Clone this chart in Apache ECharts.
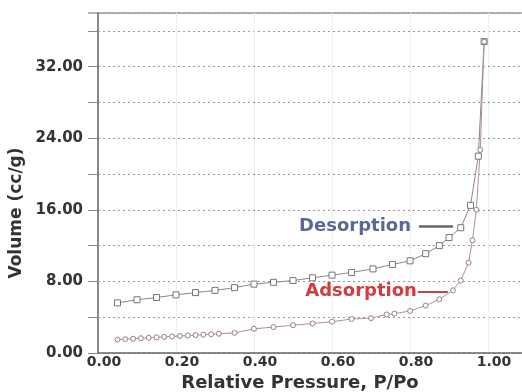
<!DOCTYPE html>
<html>
<head>
<meta charset="utf-8">
<script src="https://cdn.jsdelivr.net/npm/echarts@6/dist/echarts.min.js"></script>
<style>
  html, body { margin: 0; padding: 0; background: #fff; }
  #chart-container { width: 522px; height: 392px; }
</style>
</head>
<body>
<div id="chart-container"></div>
<script>
var dom = document.getElementById("chart-container");
var myChart = echarts.init(dom, null, { renderer: "canvas" });

// relative pressure P/Po and volume (cc/g)
const desorptionP = [0.05, 0.10, 0.15, 0.20, 0.25, 0.30, 0.35, 0.40, 0.45, 0.50, 0.55, 0.60, 0.65, 0.705, 0.755, 0.80, 0.84, 0.875, 0.90, 0.93, 0.955, 0.975, 0.99];
const desorptionV = [5.6, 5.95, 6.2, 6.5, 6.75, 7.0, 7.3, 7.7, 7.9, 8.1, 8.4, 8.7, 9.0, 9.4, 9.9, 10.3, 11.1, 12.0, 12.9, 14.0, 16.5, 22.0, 34.8];

const adsorptionP = [0.05, 0.07, 0.09, 0.11, 0.13, 0.15, 0.17, 0.19, 0.21, 0.23, 0.25, 0.27, 0.29, 0.31, 0.35, 0.40, 0.45, 0.50, 0.55, 0.60, 0.65, 0.70, 0.74, 0.76, 0.80, 0.84, 0.875, 0.91, 0.93, 0.95, 0.96, 0.97, 0.98, 0.99];
const adsorptionV = [1.5, 1.55, 1.6, 1.65, 1.7, 1.75, 1.8, 1.85, 1.9, 1.95, 2.0, 2.05, 2.1, 2.15, 2.25, 2.7, 2.9, 3.1, 3.3, 3.5, 3.8, 3.9, 4.3, 4.4, 4.7, 5.3, 6.0, 7.0, 8.1, 10.1, 12.6, 16.0, 22.7, 34.8];

const yTicks = [0, 8, 16, 24, 32];

const pair = (xs, ys) => xs.map((x, i) => [x, ys[i]]);

const tickFont = { fontFamily: "DejaVu Sans", fontWeight: "bold", fontSize: 14, color: "#333" };

var option = {
  backgroundColor: "#fff",
  animation: false,
  grid: { left: 98, top: 13, right: 0, bottom: 39, outerBoundsMode: "none", containLabel: false },
  xAxis: {
    type: "value",
    min: 0,
    max: 1.087,
    interval: 0.2,
    name: "Relative Pressure, P/Po",
    nameLocation: "middle",
    nameGap: 19,
    nameTextStyle: { fontFamily: "DejaVu Sans", fontWeight: "bold", fontSize: 18, color: "#333", padding: [0, 20, 0, 0] },
    axisLine: { show: true, lineStyle: { color: "#666", width: 1.5 } },
    axisTick: { show: false },
    axisLabel: Object.assign({}, tickFont, {
      margin: 2,
      showMaxLabel: false,
      padding: [0, 0, 0, 12],
      formatter: (v) => v.toFixed(2),
    }),
    splitLine: { show: true, lineStyle: { color: "#ddd", type: "dotted", width: 1 } },
  },
  yAxis: {
    type: "value",
    min: 0,
    max: 38,
    interval: 4,
    name: "Volume (cc/g)",
    nameLocation: "middle",
    nameGap: 70,
    nameTextStyle: { fontFamily: "DejaVu Sans", fontWeight: "bold", fontSize: 17, color: "#333", padding: [0, 60, 0, 0] },
    axisLine: { show: true, lineStyle: { color: "#666", width: 1.5 } },
    axisTick: { show: true, inside: false, length: 10, lineStyle: { color: "#888" } },
    axisLabel: Object.assign({}, tickFont, {
      fontSize: 15,
      margin: 15,
      showMaxLabel: false,
      formatter: (v) => (yTicks.indexOf(v) >= 0 ? v.toFixed(2) : ""),
    }),
    splitLine: { show: true, lineStyle: { color: "#999", type: [2, 3], width: 1 } },
  },
  graphic: [
    { type: "line", shape: { x1: 88, y1: 13, x2: 522, y2: 13 }, style: { stroke: "#999", lineWidth: 1.5 } },
  ],
  series: [
    {
      name: "Desorption",
      type: "line",
      data: pair(desorptionP, desorptionV),
      symbol: "rect",
      symbolSize: 6,
      showAllSymbol: true,
      lineStyle: { color: "#888", width: 1 },
      itemStyle: { color: "#fff", borderColor: "#777", borderWidth: 1 },
      markLine: {
        silent: true,
        symbol: "none",
        lineStyle: { color: "#666", type: "solid", width: 2.5 },
        label: {
          show: true,
          position: "start",
          distance: 8,
          formatter: "Desorption",
          fontFamily: "DejaVu Sans",
          fontWeight: "bold",
          fontSize: 18,
          color: "#5a6896",
        },
        data: [[{ coord: [0.823, 14.15] }, { coord: [0.91, 14.15] }]],
      },
    },
    {
      name: "Adsorption",
      type: "line",
      data: pair(adsorptionP, adsorptionV),
      symbol: "circle",
      symbolSize: 5,
      showAllSymbol: true,
      lineStyle: { color: "#b09090", width: 1 },
      itemStyle: { color: "#fff", borderColor: "#998080", borderWidth: 1 },
      markLine: {
        silent: true,
        symbol: "none",
        lineStyle: { color: "#c04848", type: "solid", width: 2 },
        label: {
          show: true,
          position: "start",
          distance: 1,
          formatter: "Adsorption",
          fontFamily: "DejaVu Sans",
          fontWeight: "bold",
          fontSize: 18,
          color: "#d23c3c",
        },
        data: [[{ coord: [0.82, 6.85] }, { coord: [0.897, 6.85] }]],
      },
    },
  ],
};

myChart.setOption(option);
window.addEventListener("resize", myChart.resize);
</script>
</body>
</html>
